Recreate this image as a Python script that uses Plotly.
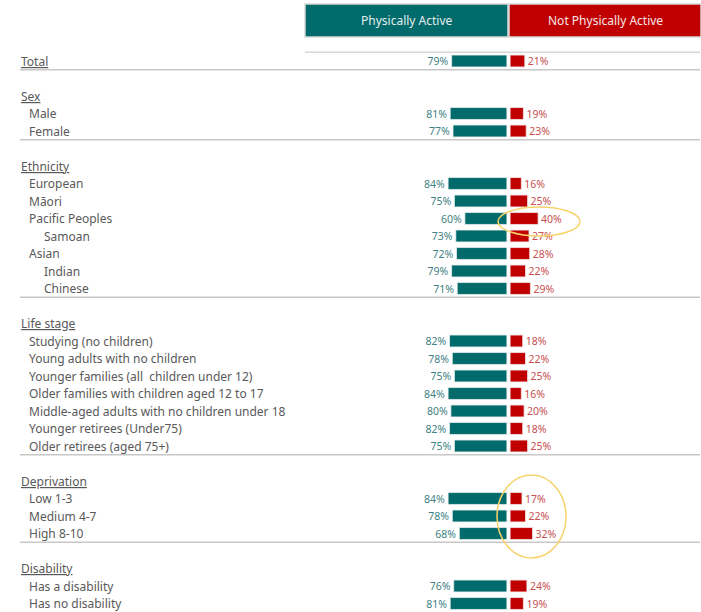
import plotly.graph_objects as go

# ---- data ----
row_labels = [
    "Total", "",
    "Sex", "Male", "Female", "",
    "Ethnicity", "European", "Māori", "Pacific Peoples", "Samoan", "Asian", "Indian", "Chinese", "",
    "Life stage", "Studying (no children)", "Young adults with no children",
    "Younger families (all  children under 12)", "Older families with children aged 12 to 17",
    "Middle-aged adults with no children under 18", "Younger retirees (Under75)",
    "Older retirees (aged 75+)", "",
    "Deprivation", "Low 1-3", "Medium 4-7", "High 8-10", "",
    "Disability", "Has a disability", "Has no disability",
]
# 0 = section header, 1 = item, 2 = sub-item, -1 = blank
row_kind = [
    0, -1,
    0, 1, 1, -1,
    0, 1, 1, 1, 2, 1, 2, 2, -1,
    0, 1, 1, 1, 1, 1, 1, 1, -1,
    0, 1, 1, 1, -1,
    0, 1, 1,
]
active_pct = [
    79, None,
    None, 81, 77, None,
    None, 84, 75, 60, 73, 72, 79, 71, None,
    None, 82, 78, 75, 84, 80, 82, 75, None,
    None, 84, 78, 68, None,
    None, 76, 81,
]
inactive_pct = [
    21, None,
    None, 19, 23, None,
    None, 16, 25, 40, 27, 28, 22, 29, None,
    None, 18, 22, 25, 16, 20, 18, 25, None,
    None, 17, 22, 32, None,
    None, 24, 19,
]
series_names = ["Physically Active", "Not Physically Active"]
separator_after = [0, 4, 13, 22, 27]

# ---- styling / geometry ----
W, H = 701, 612
TEAL = "#016A6B"
RED = "#C00000"
TEAL_TXT = "#3E8283"
RED_TXT = "#C85050"
LABEL_COL = "#595959"
FONT = "Noto Sans"
k = 0.70          # px per percent
center_px = 508.5
gap = 1.6 / k     # half-gap between bars in data units
row_h = 17.5
first_row_px = 61

x_range = [-center_px / k, (W - center_px) / k]
y_top = -first_row_px / row_h
y_bot = (H - first_row_px) / row_h

idx = [i for i, v in enumerate(active_pct) if v is not None]

fig = go.Figure()
fig.add_trace(go.Bar(
    y=idx, x=[-active_pct[i] for i in idx], base=-gap, orientation="h",
    name=series_names[0],
    marker=dict(color=TEAL, line=dict(color="#E8EEEE", width=0.8)),
    width=0.68,
    text=[f"{active_pct[i]}%" for i in idx], textposition="outside",
    constraintext="none",
    textfont=dict(family=FONT, size=10.5, color=TEAL_TXT),
    cliponaxis=False, hoverinfo="skip",
))
fig.add_trace(go.Bar(
    y=idx, x=[inactive_pct[i] for i in idx], base=gap, orientation="h",
    name=series_names[1],
    marker=dict(color=RED, line=dict(color="#F2E6E6", width=0.8)),
    width=0.68,
    text=[f"{inactive_pct[i]}%" for i in idx], textposition="outside",
    constraintext="none",
    textfont=dict(family=FONT, size=10.5, color=RED_TXT),
    cliponaxis=False, hoverinfo="skip",
))

annotations = []
indent = {0: 19, 1: 27, 2: 42}
for i, (lab, kind) in enumerate(zip(row_labels, row_kind)):
    if kind < 0:
        continue
    txt = f"<u>{lab}</u>" if kind == 0 else lab
    annotations.append(dict(
        x=indent[kind] / W, xref="paper", y=i, yref="y",
        text=txt, showarrow=False, xanchor="left", yanchor="middle",
        font=dict(family=FONT, size=12, color=LABEL_COL),
    ))

# header boxes
hdr_y0, hdr_y1 = 1 - 37 / H, 1 - 4 / H
annotations.append(dict(x=(305 + 508) / 2 / W, xref="paper", y=(hdr_y0 + hdr_y1) / 2, yref="paper",
                        text=series_names[0], showarrow=False, xanchor="center", yanchor="middle",
                        font=dict(family=FONT, size=12, color="#E6EFEF")))
annotations.append(dict(x=(509 + 701) / 2 / W, xref="paper", y=(hdr_y0 + hdr_y1) / 2, yref="paper",
                        text=series_names[1], showarrow=False, xanchor="center", yanchor="middle",
                        font=dict(family=FONT, size=12, color="#F6E6E6")))

shapes = [
    dict(type="rect", xref="paper", yref="paper", x0=305 / W, x1=508 / W, y0=hdr_y0, y1=hdr_y1,
         fillcolor=TEAL, line=dict(color="#D8D8D8", width=1.5), layer="below"),
    dict(type="rect", xref="paper", yref="paper", x0=509 / W, x1=701 / W, y0=hdr_y0, y1=hdr_y1,
         fillcolor=RED, line=dict(color="#D8D8D8", width=1.5), layer="below"),
    dict(type="line", xref="paper", yref="y", x0=305 / W, x1=700 / W, y0=-0.5, y1=-0.5,
         line=dict(color="#D6D6D6", width=1.5)),
]
for s in separator_after:
    shapes.append(dict(type="line", xref="paper", yref="y", x0=20 / W, x1=700 / W,
                       y0=s + 0.5, y1=s + 0.5, line=dict(color="#C8C8C8", width=1.5)))

# highlight ellipses
def px_ellipse(x0, x1, y0, y1):
    return dict(type="circle", xref="paper", yref="paper",
                x0=x0 / W, x1=x1 / W, y0=1 - y1 / H, y1=1 - y0 / H,
                line=dict(color="#F7D36B", width=1.5), fillcolor="rgba(0,0,0,0)")

shapes.append(px_ellipse(498, 580, 207, 236))
shapes.append(px_ellipse(497, 566, 475, 558))

fig.update_layout(
    width=W, height=H, margin=dict(l=0, r=0, t=0, b=0),
    paper_bgcolor="white", plot_bgcolor="white",
    barmode="overlay", showlegend=False,
    xaxis=dict(range=x_range, visible=False, fixedrange=True),
    yaxis=dict(range=[y_bot, y_top], visible=False, fixedrange=True),
    annotations=annotations, shapes=shapes,
)
fig.write_html(
    "out.html",
    config={"displayModeBar": False},
    post_script="document.body.style.margin='0';document.body.style.overflow='hidden';",
)
